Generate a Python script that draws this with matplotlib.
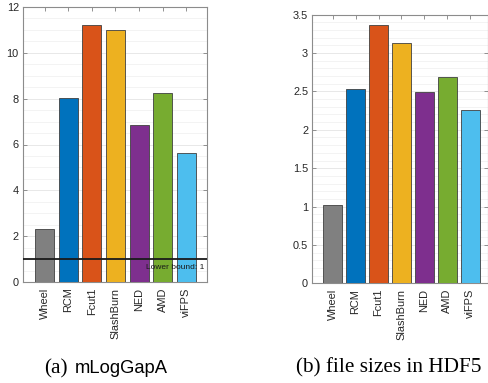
import matplotlib
matplotlib.use("Agg")
import matplotlib.pyplot as plt
from matplotlib.ticker import MultipleLocator, FuncFormatter

methods = ["Wheel", "RCM", "Fcut1", "SlashBurn", "NED", "AMD", "viFPS"]
mloggapa = [2.31, 8.01, 11.22, 10.99, 6.87, 8.26, 5.62]
file_sizes = [1.02, 2.53, 3.36, 3.13, 2.49, 2.69, 2.255]
lower_bound = 1
colors = ["#808080", "#0072BD", "#D95319", "#EDB120", "#7E2F8E", "#77AC30", "#4DBEEE"]

W, H = 489, 383
fig = plt.figure(figsize=(W / 100, H / 100), dpi=100)
sans = ["Liberation Sans", "DejaVu Sans"]
serif = ["Liberation Serif", "DejaVu Serif"]

def px_ax(l, r, t, b):
    return [l / W, 1 - b / H, (r - l) / W, (b - t) / H]

ax1 = fig.add_axes(px_ax(23, 207, 7, 282))
ax2 = fig.add_axes(px_ax(312.3, 488.4, 14.7, 283.3))

def style(ax, vals, ymax, major, minor, xlim):
    pos = list(range(1, len(methods) + 1))
    ax.bar(pos, vals, width=0.8, color=colors, edgecolor="#404040", linewidth=0.6, zorder=3)
    ax.set_xlim(*xlim)
    ax.set_ylim(0, ymax)
    ax.set_xticks(pos)
    ax.set_xticklabels(methods, rotation=90, fontsize=7.9, family=sans, color="#262626")
    ax.yaxis.set_major_locator(MultipleLocator(major))
    ax.yaxis.set_minor_locator(MultipleLocator(minor))
    ax.yaxis.set_major_formatter(FuncFormatter(lambda v, p: "%g" % v))
    ax.tick_params(axis="both", which="major", direction="in", length=3, width=0.6,
                   color="#808080", labelsize=7.9, labelcolor="#262626", pad=3,
                   top=True, right=True)
    ax.tick_params(axis="y", which="minor", length=0, left=False, right=False)
    ax.tick_params(axis="x", pad=4)
    ax.grid(True, which="major", axis="y", color="#e4e4e4", linewidth=0.6, zorder=0)
    ax.grid(True, which="minor", axis="y", color="#eeeeee", linewidth=0.5, zorder=0)
    ax.set_axisbelow(True)
    for s in ax.spines.values():
        s.set_color("#8c8c8c")
        s.set_linewidth(0.8)

style(ax1, mloggapa, 12, 2, 0.5, (0.09, 7.87))
style(ax2, file_sizes, 3.5, 0.5, 0.1, (0.12, 7.78))
for lab in ax1.get_yticklabels() + ax2.get_yticklabels():
    lab.set_family(sans)

ax1.axhline(lower_bound, color="#1a1a1a", linewidth=1.3, zorder=4)
ax1.text(7.78, lower_bound - 0.22, "Lower bound: %g" % lower_bound, ha="right", va="top",
         fontsize=6.0, family=sans, color="#1a1a1a", zorder=5)

fig.text(44 / W, 1 - 373 / H, "(a)", ha="left", va="baseline", fontsize=15.3, family=serif)
fig.text(75 / W, 1 - 373 / H, "mLogGapA", ha="left", va="baseline", fontsize=13.2, family=sans)
fig.text(388.5 / W, 1 - 372 / H, "(b) file sizes in HDF5", ha="center", va="baseline",
         fontsize=15.3, family=serif)

fig.savefig("out.png", dpi=100)
